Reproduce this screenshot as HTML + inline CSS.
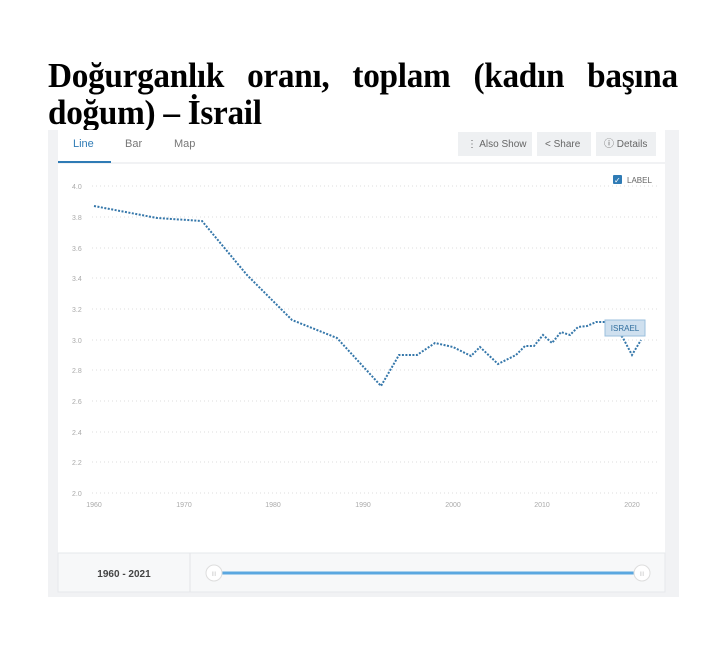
<!DOCTYPE html>
<html><head><meta charset="utf-8"><style>
body{margin:0;width:722px;height:654px;background:#fff;position:relative;overflow:hidden;font-family:"Liberation Sans",sans-serif}
.title{position:absolute;left:48px;top:57px;width:663px;transform:scaleX(0.95);transform-origin:0 0;font-family:"Liberation Serif",serif;font-weight:bold;font-size:35px;line-height:37px;text-align:justify;text-align-last:left;color:#000;letter-spacing:-0.3px}
</style></head><body>
<div class="title">Doğurganlık oranı, toplam (kadın başına doğum) – İsrail</div>
<svg style="position:absolute;left:0;top:0" width="722" height="654" font-family="Liberation Sans, sans-serif">
<rect x="48" y="130" width="631" height="467" fill="#f1f2f4"/>
<rect x="58" y="130" width="607" height="462" fill="#fff"/>
<rect x="58" y="553" width="607" height="39" fill="#f7f8f9" stroke="#e6e8eb"/>
<line x1="190" y1="553" x2="190" y2="592" stroke="#e3e5e8"/>
<line x1="58" y1="163" x2="665" y2="163" stroke="#e3e5e8"/>
<line x1="58" y1="162" x2="111" y2="162" stroke="#2f7bb5" stroke-width="2"/>
<text x="73" y="147" font-size="11" fill="#2f7bb5">Line</text>
<text x="125" y="147" font-size="11" fill="#777">Bar</text>
<text x="174" y="147" font-size="11" fill="#777">Map</text>
<rect x="458" y="132" width="74" height="24" fill="#eef0f2"/>
<text x="467" y="147" font-size="10" fill="#666">⋮  Also Show</text>
<rect x="537" y="132" width="54" height="24" fill="#eef0f2"/>
<text x="545" y="147" font-size="10" fill="#666">&lt; Share</text>
<rect x="596" y="132" width="60" height="24" fill="#eef0f2"/>
<text x="604" y="147" font-size="10" fill="#666">ⓘ Details</text>
<rect x="613" y="175" width="9" height="9" rx="1" fill="#2f7bb5"/>
<text x="614" y="183" font-size="8" fill="#fff">✓</text>
<text x="627" y="183" font-size="8" fill="#666">LABEL</text>
<g stroke="#ddd" stroke-dasharray="1 3" stroke-width="1">
<line x1="92" y1="186" x2="657" y2="186"/><line x1="92" y1="217" x2="657" y2="217"/><line x1="92" y1="248" x2="657" y2="248"/><line x1="92" y1="278" x2="657" y2="278"/><line x1="92" y1="309" x2="657" y2="309"/><line x1="92" y1="340" x2="657" y2="340"/><line x1="92" y1="370" x2="657" y2="370"/><line x1="92" y1="401" x2="657" y2="401"/><line x1="92" y1="432" x2="657" y2="432"/><line x1="92" y1="462" x2="657" y2="462"/><line x1="92" y1="493" x2="657" y2="493"/>
</g>
<g font-size="7" fill="#aaa">
<text x="72" y="189">4.0</text><text x="72" y="220">3.8</text><text x="72" y="251">3.6</text><text x="72" y="281">3.4</text><text x="72" y="312">3.2</text><text x="72" y="343">3.0</text><text x="72" y="373">2.8</text><text x="72" y="404">2.6</text><text x="72" y="435">2.4</text><text x="72" y="465">2.2</text><text x="72" y="496">2.0</text>
</g>
<g font-size="7" fill="#aaa" text-anchor="middle">
<text x="94" y="507">1960</text><text x="184" y="507">1970</text><text x="273" y="507">1980</text><text x="363" y="507">1990</text><text x="453" y="507">2000</text><text x="542" y="507">2010</text><text x="632" y="507">2020</text>
</g>
<polyline fill="none" stroke="#3577aa" stroke-width="2" stroke-dasharray="2 1.5" points="94,206 157,218 202,221 247,275 292,320 337,338 381,386 399,355 417,355 435,343 453,347 471,356 480,347 498,364 516,355 525,346 534,346 543,335 552,343 561,332 570,335 578,327 587,326 596,322 605,322 614,326 623,338 632,355 641,340"/>
<rect x="605" y="320" width="40" height="16" fill="#cfe0ef" stroke="#9bbfdc"/>
<text x="625" y="331" font-size="8" fill="#2f6e9e" text-anchor="middle">ISRAEL</text>
<text x="124" y="577" font-size="10" font-weight="bold" fill="#444" text-anchor="middle">1960 - 2021</text>
<line x1="214" y1="573" x2="642" y2="573" stroke="#5aa7e0" stroke-width="3"/>
<circle cx="214" cy="573" r="8" fill="#fff" stroke="#ddd"/>
<circle cx="642" cy="573" r="8" fill="#fff" stroke="#ddd"/>
<text x="214" y="576" font-size="6" fill="#ccc" text-anchor="middle">III</text>
<text x="642" y="576" font-size="6" fill="#ccc" text-anchor="middle">III</text>
</svg>
</body></html>
